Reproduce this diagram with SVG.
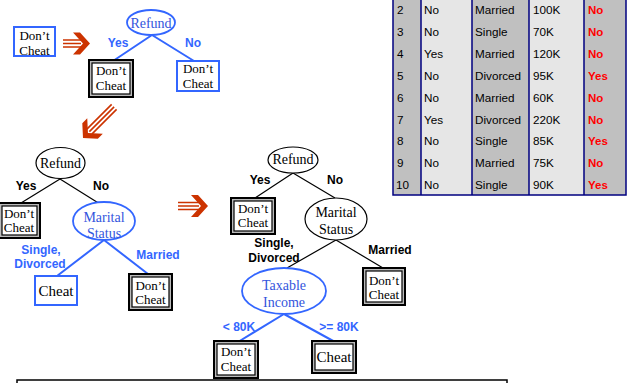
<svg xmlns="http://www.w3.org/2000/svg" width="637" height="383" viewBox="0 0 637 383">
<style>
.bg{fill:#fff}
.serif{font-family:"Liberation Serif","Times New Roman",serif;font-size:13px;fill:#000;text-anchor:middle}
.serif.big{font-size:15px}
.serif.lbl{font-size:14px}
.serif.blue{fill:#3355dd}
.lab{font-family:"Liberation Sans",Arial,sans-serif;font-size:12px;font-weight:bold;text-anchor:middle}
.lab.b{fill:#3366ff}
.lab.k{fill:#000}
.bl{stroke:#3366ff;stroke-width:2;fill:none}
.bk{stroke:#000;stroke-width:1.2;fill:none}
.ebl{stroke:#3366ff;stroke-width:1.8;fill:#fff}
.ebk{stroke:#000;stroke-width:1.2;fill:#fff}
.bbox{stroke:#3366ff;stroke-width:2;fill:#fff}
.dout{stroke:#000;stroke-width:2;fill:#bbb}
.din{stroke:#000;stroke-width:1.2;fill:#fff}
.arr{fill:#cc3300}
.sh{stroke:#cc3300;stroke-width:1.6}
.td{font-family:"Liberation Sans",Arial,sans-serif;font-size:11.7px;fill:#000}
.tc{font-family:"Liberation Sans",Arial,sans-serif;font-size:11.5px;font-weight:bold;fill:#ff0000}
.cg{fill:#c0c0c0}
.cl{fill:#e6e6e6}
</style>
<rect class="bg" x="0" y="0" width="637" height="383"/>

<!-- table -->
<g id="table">
<rect class="cg" x="393" y="0" width="28" height="195"/>
<rect class="cl" x="421" y="0" width="51" height="195"/>
<rect class="cg" x="472" y="0" width="57" height="195"/>
<rect class="cl" x="529" y="0" width="55" height="195"/>
<rect class="cg" x="584" y="0" width="42" height="195"/>
<g stroke="#000080" stroke-width="1.5" fill="none">
<path d="M393,0V195H626V0M421,0V195M472,0V195M529,0V195M584,0V195"/>
</g>
<g class="td">
<text x="397" y="14">2</text><text x="424" y="14">No</text><text x="475" y="14">Married</text><text x="533" y="14">100K</text>
<text x="397" y="36">3</text><text x="424" y="36">No</text><text x="475" y="36">Single</text><text x="533" y="36">70K</text>
<text x="397" y="58">4</text><text x="424" y="58">Yes</text><text x="475" y="58">Married</text><text x="533" y="58">120K</text>
<text x="397" y="80">5</text><text x="424" y="80">No</text><text x="475" y="80">Divorced</text><text x="533" y="80">95K</text>
<text x="397" y="102">6</text><text x="424" y="102">No</text><text x="475" y="102">Married</text><text x="533" y="102">60K</text>
<text x="397" y="124">7</text><text x="424" y="124">Yes</text><text x="475" y="124">Divorced</text><text x="533" y="124">220K</text>
<text x="397" y="145">8</text><text x="424" y="145">No</text><text x="475" y="145">Single</text><text x="533" y="145">85K</text>
<text x="397" y="167">9</text><text x="424" y="167">No</text><text x="475" y="167">Married</text><text x="533" y="167">75K</text>
<text x="396" y="189">10</text><text x="424" y="189">No</text><text x="475" y="189">Single</text><text x="533" y="189">90K</text>
</g>
<g class="tc">
<text x="588" y="14">No</text><text x="588" y="36">No</text><text x="588" y="58">No</text>
<text x="588" y="80">Yes</text><text x="588" y="102">No</text><text x="588" y="124">No</text>
<text x="588" y="145">Yes</text><text x="588" y="167">No</text><text x="588" y="189">Yes</text>
</g>
</g>

<!-- bottom box -->
<rect x="17" y="380" width="490" height="10" fill="none" stroke="#000" stroke-width="1.5"/>

<!-- red arrows -->
<g id="arrows">
<g transform="translate(90,43.5)">
<path class="sh" d="M-27,-3.5H-9M-27,0H-9M-27,3.5H-9"/>
<polygon class="arr" points="-17,-11 -10,-11 0,0 -10,11 -17,11 -7,0"/>
</g>
<g transform="translate(83,138) rotate(135)">
<path class="sh" d="M-44,-3.5H-9M-44,0H-9M-44,3.5H-9"/>
<polygon class="arr" points="-17,-11 -10,-11 0,0 -10,11 -17,11 -7,0"/>
</g>
<g transform="translate(208,206)">
<path class="sh" d="M-30,-3.5H-9M-30,0H-9M-30,3.5H-9"/>
<polygon class="arr" points="-17,-11 -10,-11 0,0 -10,11 -17,11 -7,0"/>
</g>
</g>

<!-- connectors -->
<g id="connectors">
<path class="bl" d="M152,35L113,61M152,35L194,61"/>
<path class="bk" d="M60,179L21,203M60,179L100,204"/>
<path class="bl" d="M104,240L57,276M104,240L148,274"/>
<path class="bk" d="M293,173L255,198M293,173L335,198"/>
<path class="bk" d="M336,240L287,268M336,240L383,268"/>
<path class="bl" d="M284,314L238,342M284,314L335,342"/>
</g>

<!-- labels -->
<g id="labels">
<text class="lab b" x="118" y="47">Yes</text>
<text class="lab b" x="193" y="47">No</text>
<text class="lab k" x="26" y="190">Yes</text>
<text class="lab k" x="101" y="190">No</text>
<text class="lab b" x="41" y="254">Single,</text>
<text class="lab b" x="40" y="268">Divorced</text>
<text class="lab b" x="158" y="259">Married</text>
<text class="lab k" x="260" y="184">Yes</text>
<text class="lab k" x="335" y="184">No</text>
<text class="lab k" x="274" y="247">Single,</text>
<text class="lab k" x="274" y="262">Divorced</text>
<text class="lab k" x="390" y="254">Married</text>
<text class="lab b" x="239" y="331">&lt; 80K</text>
<text class="lab b" x="339" y="331">&gt;= 80K</text>
</g>

<!-- tree 1 -->
<g id="t0-leaf">
<rect class="bbox" x="14" y="27" width="41" height="29"/>
<text class="serif" x="34.5" y="40">Don’t</text><text class="serif" x="34.5" y="54.5">Cheat</text>
</g>
<g id="t1-refund">
<ellipse class="ebl" cx="151" cy="22.5" rx="24" ry="12.5"/>
<text class="serif lbl blue" x="151" y="28">Refund</text>
</g>
<g id="t1-yes">
<rect class="dout" x="89" y="60" width="44" height="37"/>
<rect class="din" x="92" y="63" width="38" height="31"/>
<text class="serif" x="111" y="75">Don’t</text><text class="serif" x="111" y="90">Cheat</text>
</g>
<g id="t1-no">
<rect class="bbox" x="177" y="61" width="42" height="30"/>
<text class="serif" x="198" y="73">Don’t</text><text class="serif" x="198" y="88">Cheat</text>
</g>

<!-- tree 2 -->
<g id="t2-refund">
<ellipse class="ebk" cx="60.5" cy="163" rx="24.5" ry="15.5"/>
<text class="serif lbl" x="60.5" y="168">Refund</text>
</g>
<g id="t2-yes">
<rect class="dout" x="-1" y="203" width="41" height="35"/>
<rect class="din" x="2" y="206" width="35" height="29"/>
<text class="serif" x="19" y="218">Don’t</text><text class="serif" x="19" y="232">Cheat</text>
</g>
<g id="t2-marital">
<ellipse class="ebl" cx="104" cy="221" rx="31" ry="19"/>
<text class="serif lbl blue" x="104" y="222">Marital</text>
<text class="serif lbl blue" x="104" y="238">Status</text>
</g>
<g id="t2-cheat">
<rect class="bbox" x="35" y="276" width="42" height="29"/>
<text class="serif big" x="56" y="296">Cheat</text>
</g>
<g id="t2-married">
<rect class="dout" x="129" y="274" width="43" height="36"/>
<rect class="din" x="132" y="277" width="37" height="30"/>
<text class="serif" x="150.5" y="290">Don’t</text><text class="serif" x="150.5" y="304">Cheat</text>
</g>

<!-- tree 3 -->
<g id="t3-refund">
<ellipse class="ebk" cx="293" cy="160" rx="25" ry="13"/>
<text class="serif lbl" x="293" y="164">Refund</text>
</g>
<g id="t3-yes">
<rect class="dout" x="231" y="198" width="44" height="36"/>
<rect class="din" x="234" y="201" width="38" height="30"/>
<text class="serif" x="253" y="213">Don’t</text><text class="serif" x="253" y="227">Cheat</text>
</g>
<g id="t3-marital">
<ellipse class="ebk" cx="336" cy="219" rx="31" ry="21"/>
<text class="serif lbl" x="336" y="217">Marital</text>
<text class="serif lbl" x="336" y="234">Status</text>
</g>
<g id="t3-married">
<rect class="dout" x="363" y="268" width="42" height="37"/>
<rect class="din" x="366" y="271" width="36" height="31"/>
<text class="serif" x="384" y="285">Don’t</text><text class="serif" x="384" y="299">Cheat</text>
</g>
<g id="t3-income">
<ellipse class="ebl" cx="284" cy="291" rx="42" ry="23"/>
<text class="serif lbl blue" x="284" y="290">Taxable</text>
<text class="serif lbl blue" x="284" y="307">Income</text>
</g>
<g id="t3-low">
<rect class="dout" x="214" y="341" width="44" height="37"/>
<rect class="din" x="217" y="344" width="38" height="31"/>
<text class="serif" x="236" y="356">Don’t</text><text class="serif" x="236" y="371">Cheat</text>
</g>
<g id="t3-high">
<rect class="dout" x="312" y="341" width="44" height="32"/>
<rect class="din" x="315" y="344" width="38" height="26"/>
<text class="serif big" x="334" y="362">Cheat</text>
</g>
</svg>
